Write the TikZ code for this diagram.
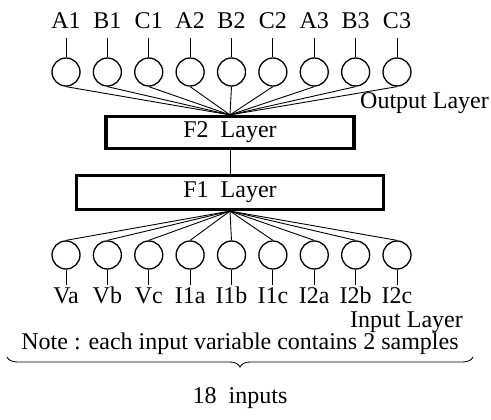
\documentclass[tikz,border=0pt]{standalone}
\usepackage{fontspec}
\setmainfont{Liberation Serif}
\usetikzlibrary{decorations.pathreplacing}
\begin{document}
\begin{tikzpicture}[x=1pt,y=-1pt,
  neuron/.style={circle,draw,line width=1.3pt,minimum size=28pt,inner sep=0pt},
  layerbox/.style={draw,line width=3.2pt,inner sep=0pt,font=\fontsize{24}{26}\selectfont},
  lbl/.style={font=\fontsize{24}{26}\selectfont,inner sep=0pt},
  wire/.style={line width=0.9pt}]
\useasboundingbox (0,0) rectangle (491,420);
\node[layerbox,minimum width=248pt,minimum height=32pt] (f2) at (230,132.5) {F2\ \ Layer};
\node[layerbox,minimum width=307pt,minimum height=34pt] (f1) at (230,192.5) {F1\ \ Layer};
\draw[wire] (f2.south) -- (f1.north);
\foreach \i/\t/\b in {1/A1/Va,2/B1/Vb,3/C1/Vc,4/A2/I1a,5/B2/I1b,6/C2/I1c,7/A3/I2a,8/B3/I2b,9/C3/I2c} {
  \pgfmathsetmacro\xx{66+41.375*(\i-1)}
  \node[neuron] (t\i) at (\xx,72) {};
  \node[neuron] (b\i) at (\xx,255) {};
  \node[lbl,anchor=base] (tl\i) at (\xx,29) {\t};
  \node[lbl,anchor=base] (bl\i) at (\xx,303.5) {\b};
  \coordinate (tc\i) at (\xx,38);
  \coordinate (bc\i) at (\xx,285);
  \draw[wire] (tc\i) -- (t\i);
  \draw[wire] (b\i) -- (bc\i);
  \draw[wire] (t\i.south) -- (f2.north);
  \draw[wire] (b\i.north) -- (f1.south);
}
\node[lbl,anchor=base east] (outl) at (489,109) {Output Layer};
\node[lbl,anchor=base east] (inl) at (463,327) {Input Layer};
\node[lbl,anchor=base] (note) at (240,349.5) {Note : each input variable contains 2 samples};
\coordinate (brl) at (7,357);
\coordinate (brr) at (473,357);
\draw[line width=0.9pt,decorate,decoration={brace,mirror,amplitude=10pt}] (brl) -- (brr);
\node[lbl,anchor=base] (n18) at (240,403) {18\ \ inputs};
\end{tikzpicture}
\end{document}
